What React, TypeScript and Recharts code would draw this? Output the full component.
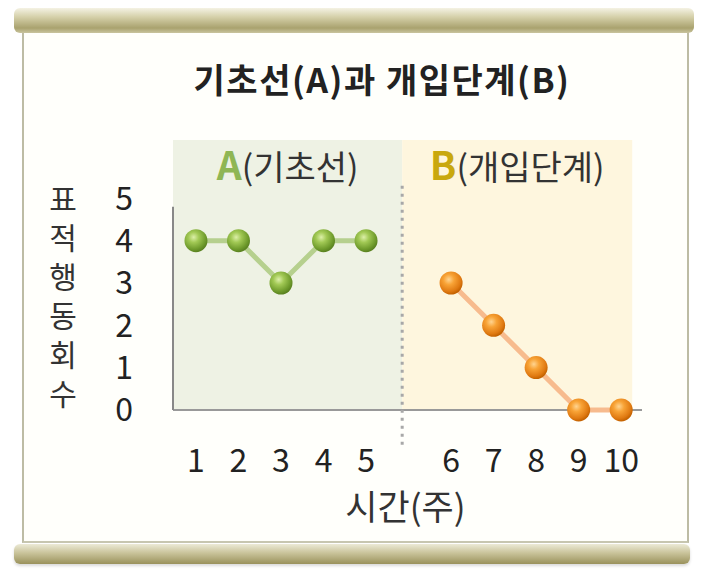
import { LineChart, Line, XAxis, YAxis, ReferenceArea, ReferenceLine } from 'recharts';

// x slots: one empty slot between the two phases
const slots = [1, 2, 3, 4, 5, null, 6, 7, 8, 9, 10];
const weeksA = [1, 2, 3, 4, 5];
const valuesA = [4, 4, 3, 4, 4];
const weeksB = [6, 7, 8, 9, 10];
const valuesB = [3, 2, 1, 0, 0];
const yTicks = [0, 1, 2, 3, 4, 5];

const title = '기초선(A)과 개입단계(B)';
const yTitle = '표적행동회수';
const xTitle = '시간(주)';
const phaseA = { letter: 'A', name: '(기초선)' };
const phaseB = { letter: 'B', name: '(개입단계)' };

const posOf = (w: number) => slots.indexOf(w);
const dataA = weeksA.map((w, i) => ({ pos: posOf(w), value: valuesA[i] }));
const dataB = weeksB.map((w, i) => ({ pos: posOf(w), value: valuesB[i] }));
const xTicks = [...weeksA, ...weeksB].map(posOf);

const X_MIN = -0.54;
const X_MAX = 10.49;
const Y_MIN = -0.9;
const Y_MAX = 6.38;
const SPLIT = 4.85;
const B_END = 10.26;

const FONT = '"Noto Sans CJK KR", "Noto Sans", sans-serif';

const ball = (id: string) => (props: any) => {
  const { cx, cy, index } = props;
  if (cx == null || cy == null) return null;
  return <circle key={`${id}-${index}`} cx={cx} cy={cy} r={11.5} fill={`url(#${id})`} />;
};

const phaseLabel = (p: { letter: string; name: string }, color: string) => (props: any) => {
  const vb = props.viewBox;
  if (!vb) return null;
  return (
    <text x={vb.x + vb.width / 2} y={vb.y + 40} textAnchor="middle" fontFamily={FONT}>
      <tspan fill={color} fontWeight="bold" fontSize={39}>{p.letter}</tspan>
      <tspan fill="#333" fontSize={34}>{p.name}</tspan>
    </text>
  );
};

// stacked vertical title
const yTitleContent = () => (
  <text
    x={63}
    y={301}
    textAnchor="middle"
    fontSize={30}
    letterSpacing={9}
    fill="#333"
    fontFamily={FONT}
    style={{ writingMode: 'vertical-rl' }}
  >
    {yTitle}
  </text>
);

export default function App() {
  return (
    <div style={{ position: 'absolute', left: 0, top: 0, width: 708, height: 569, background: '#fff', overflow: 'hidden' }}>
      {/* frame */}
      <div style={{ position: 'absolute', left: 22, top: 30, width: 663, height: 511, background: '#fffffb', borderLeft: '2px solid #bdbca4', borderRight: '2px solid #bdbca4', borderBottom: '2px solid #c7c6b0' }} />
      <div style={{ position: 'absolute', left: 14, top: 8, width: 680, height: 25, borderRadius: 6, background: 'linear-gradient(#f4f2e4 0%, #d6d1ab 35%, #a9a26e 80%, #c9c49e 100%)' }} />
      <div style={{ position: 'absolute', left: 14, top: 544, width: 676, height: 20, borderRadius: 6, background: 'linear-gradient(#ecead6 0%, #c9c39a 45%, #9a925c 100%)', boxShadow: '0 2px 3px rgba(0,0,0,0.15)' }} />
      <div style={{ position: 'absolute', left: 0, top: 0 }}>
        <LineChart width={708} height={569} margin={{ top: 140, right: 66, bottom: 91, left: 0 }}>
          <defs>
            <radialGradient id="gBall" cx="40%" cy="35%" r="65%">
              <stop offset="0%" stopColor="#dcefa8" />
              <stop offset="35%" stopColor="#a2c955" />
              <stop offset="80%" stopColor="#6f9b2c" />
              <stop offset="100%" stopColor="#5a8220" />
            </radialGradient>
            <radialGradient id="oBall" cx="40%" cy="35%" r="65%">
              <stop offset="0%" stopColor="#ffd490" />
              <stop offset="35%" stopColor="#f8a336" />
              <stop offset="80%" stopColor="#e07a12" />
              <stop offset="100%" stopColor="#c46200" />
            </radialGradient>
          </defs>
          <XAxis
            type="number"
            dataKey="pos"
            domain={[X_MIN, X_MAX]}
            ticks={xTicks}
            allowDataOverflow
            axisLine={false}
            tickLine={false}
            tickSize={0}
            tickMargin={1}
            interval={0}
            tickFormatter={(v: number) => String(slots[v] ?? '')}
            tick={{ fill: '#222', fontSize: 32, fontFamily: FONT }}
            height={30}
            label={{ value: xTitle, position: 'insideBottom', offset: -42, fill: '#333', fontSize: 35, fontFamily: FONT, dx: -2 }}
          />
          <YAxis
            type="number"
            domain={[Y_MIN, Y_MAX]}
            ticks={yTicks}
            allowDataOverflow
            axisLine={false}
            tickLine={false}
            tickSize={0}
            tickMargin={40}
            width={173}
            tick={{ fill: '#222', fontSize: 32, fontFamily: FONT }}
            label={{ content: yTitleContent }}
          />
          <ReferenceArea x1={X_MIN} x2={SPLIT} y1={0} y2={Y_MAX} fill="#eef2e4" fillOpacity={1} stroke="none" label={{ content: phaseLabel(phaseA, '#8fb654') }} />
          <ReferenceArea x1={SPLIT} x2={B_END} y1={0} y2={Y_MAX} fill="#fef6de" fillOpacity={1} stroke="none" label={{ content: phaseLabel(phaseB, '#c9a80e') }} />
          <ReferenceLine y={0} stroke="#999" strokeWidth={2} />
          <ReferenceLine segment={[{ x: X_MIN, y: 0 }, { x: X_MIN, y: 4.8 }]} stroke="#888" strokeWidth={2} />
          <ReferenceLine segment={[{ x: SPLIT, y: 5.3 }, { x: SPLIT, y: Y_MIN }]} stroke="#a8a8a8" strokeWidth={3} strokeDasharray="3 5" />
          <Line data={dataA} dataKey="value" stroke="#b6d08e" strokeWidth={5} dot={ball('gBall')} activeDot={false} isAnimationActive={false} />
          <Line data={dataB} dataKey="value" stroke="#f7bb8e" strokeWidth={5} dot={ball('oBall')} activeDot={false} isAnimationActive={false} />
        </LineChart>
      </div>
      <div style={{ position: 'absolute', left: 0, top: 55, width: 764, textAlign: 'center', fontFamily: FONT, fontWeight: 'bold', fontSize: 34, letterSpacing: 1.5, color: '#222', lineHeight: '48px' }}>
        {title}
      </div>
    </div>
  );
}
